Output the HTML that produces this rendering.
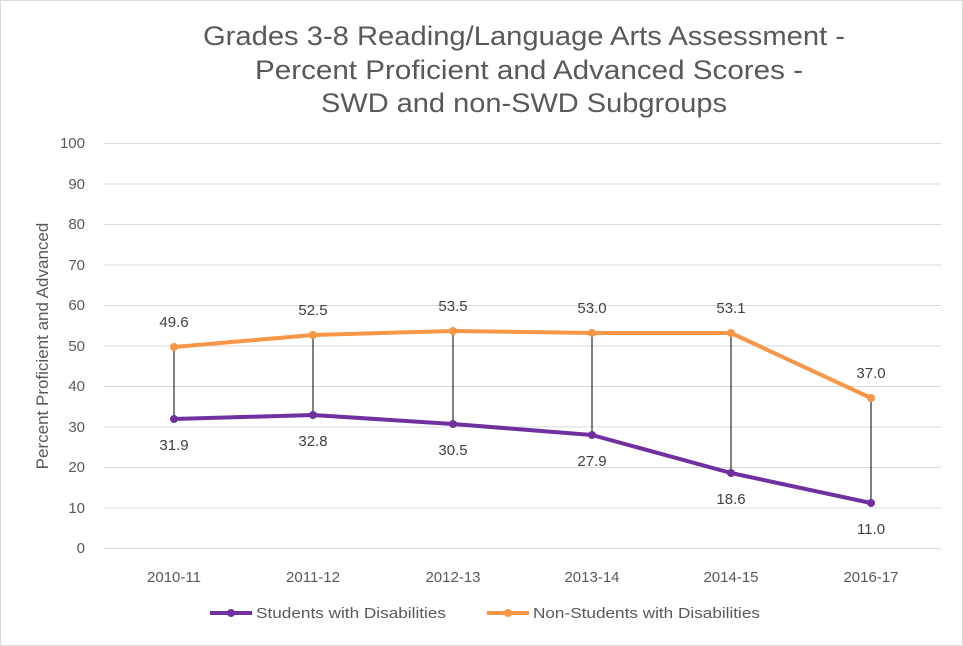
<!DOCTYPE html>
<html><head><meta charset="utf-8"><style>
body{margin:0;background:#fff}
svg{display:block;font-family:"Liberation Sans",sans-serif}
</style></head><body>
<svg width="963" height="646" viewBox="0 0 963 646" xmlns="http://www.w3.org/2000/svg">
<rect x="0.5" y="0.5" width="962" height="645" fill="#fff" stroke="#d9d9d9"/>
<g font-size="27" fill="#595959">
<text x="203" y="45" textLength="642" lengthAdjust="spacingAndGlyphs">Grades 3-8 Reading/Language Arts Assessment -</text>
<text x="255" y="79" textLength="548" lengthAdjust="spacingAndGlyphs">Percent Proficient and Advanced Scores -</text>
<text x="321" y="112" textLength="406" lengthAdjust="spacingAndGlyphs">SWD and non-SWD Subgroups</text>
</g>
<g stroke="#d9d9d9" stroke-width="1">
<line x1="104" x2="941" y1="143.5" y2="143.5"/>
<line x1="104" x2="941" y1="184" y2="184"/>
<line x1="104" x2="941" y1="224.5" y2="224.5"/>
<line x1="104" x2="941" y1="265" y2="265"/>
<line x1="104" x2="941" y1="305.5" y2="305.5"/>
<line x1="104" x2="941" y1="346" y2="346"/>
<line x1="104" x2="941" y1="386.5" y2="386.5"/>
<line x1="104" x2="941" y1="427" y2="427"/>
<line x1="104" x2="941" y1="467.5" y2="467.5"/>
<line x1="104" x2="941" y1="508" y2="508"/>
<line x1="104" x2="941" y1="548.5" y2="548.5"/>
</g>
<g font-size="15" fill="#595959" text-anchor="end">
<text x="85" y="148">100</text><text x="85" y="189">90</text><text x="85" y="229">80</text><text x="85" y="270">70</text><text x="85" y="310">60</text><text x="85" y="351">50</text><text x="85" y="391">40</text><text x="85" y="432">30</text><text x="85" y="472">20</text><text x="85" y="513">10</text><text x="85" y="553">0</text>
</g>
<text transform="translate(48,346) rotate(-90)" font-size="17" fill="#595959" text-anchor="middle">Percent Proficient and Advanced</text>
<g font-size="15" fill="#595959" text-anchor="middle">
<text x="174" y="582">2010-11</text><text x="313" y="582">2011-12</text><text x="453" y="582">2012-13</text><text x="592" y="582">2013-14</text><text x="731" y="582">2014-15</text><text x="871" y="582">2016-17</text>
</g>
<g stroke="#000" stroke-width="1">
<line x1="174" x2="174" y1="347" y2="419"/>
<line x1="313" x2="313" y1="335" y2="415"/>
<line x1="453" x2="453" y1="331" y2="424"/>
<line x1="592" x2="592" y1="333" y2="435"/>
<line x1="731" x2="731" y1="333" y2="473"/>
<line x1="871" x2="871" y1="398" y2="503"/>
</g>
<polyline fill="none" stroke="#f79646" stroke-width="4" stroke-linejoin="round" points="174,347 313,335 453,331 592,333 731,333 871,398"/>
<polyline fill="none" stroke="#7030a0" stroke-width="4" stroke-linejoin="round" points="174,419 313,415 453,424 592,435 731,473 871,503"/>
<g fill="#f79646"><circle cx="174" cy="347" r="4"/><circle cx="313" cy="335" r="4"/><circle cx="453" cy="331" r="4"/><circle cx="592" cy="333" r="4"/><circle cx="731" cy="333" r="4"/><circle cx="871" cy="398" r="4"/></g>
<g fill="#7030a0"><circle cx="174" cy="419" r="4"/><circle cx="313" cy="415" r="4"/><circle cx="453" cy="424" r="4"/><circle cx="592" cy="435" r="4"/><circle cx="731" cy="473" r="4"/><circle cx="871" cy="503" r="4"/></g>
<g font-size="15" fill="#404040" text-anchor="middle">
<text x="174" y="327">49.6</text><text x="313" y="315">52.5</text><text x="453" y="311">53.5</text><text x="592" y="313">53.0</text><text x="731" y="313">53.1</text><text x="871" y="378">37.0</text>
<text x="174" y="450">31.9</text><text x="313" y="446">32.8</text><text x="453" y="455">30.5</text><text x="592" y="466">27.9</text><text x="731" y="504">18.6</text><text x="871" y="534">11.0</text>
</g>
<line x1="210" x2="252" y1="613" y2="613" stroke="#7030a0" stroke-width="4"/>
<circle cx="231" cy="613" r="4" fill="#7030a0"/>
<text x="256" y="618" font-size="15" fill="#595959" textLength="190" lengthAdjust="spacingAndGlyphs">Students with Disabilities</text>
<line x1="487" x2="529" y1="613" y2="613" stroke="#f79646" stroke-width="4"/>
<circle cx="508" cy="613" r="4" fill="#f79646"/>
<text x="533" y="618" font-size="15" fill="#595959" textLength="227" lengthAdjust="spacingAndGlyphs">Non-Students with Disabilities</text>
</svg>
</body></html>
